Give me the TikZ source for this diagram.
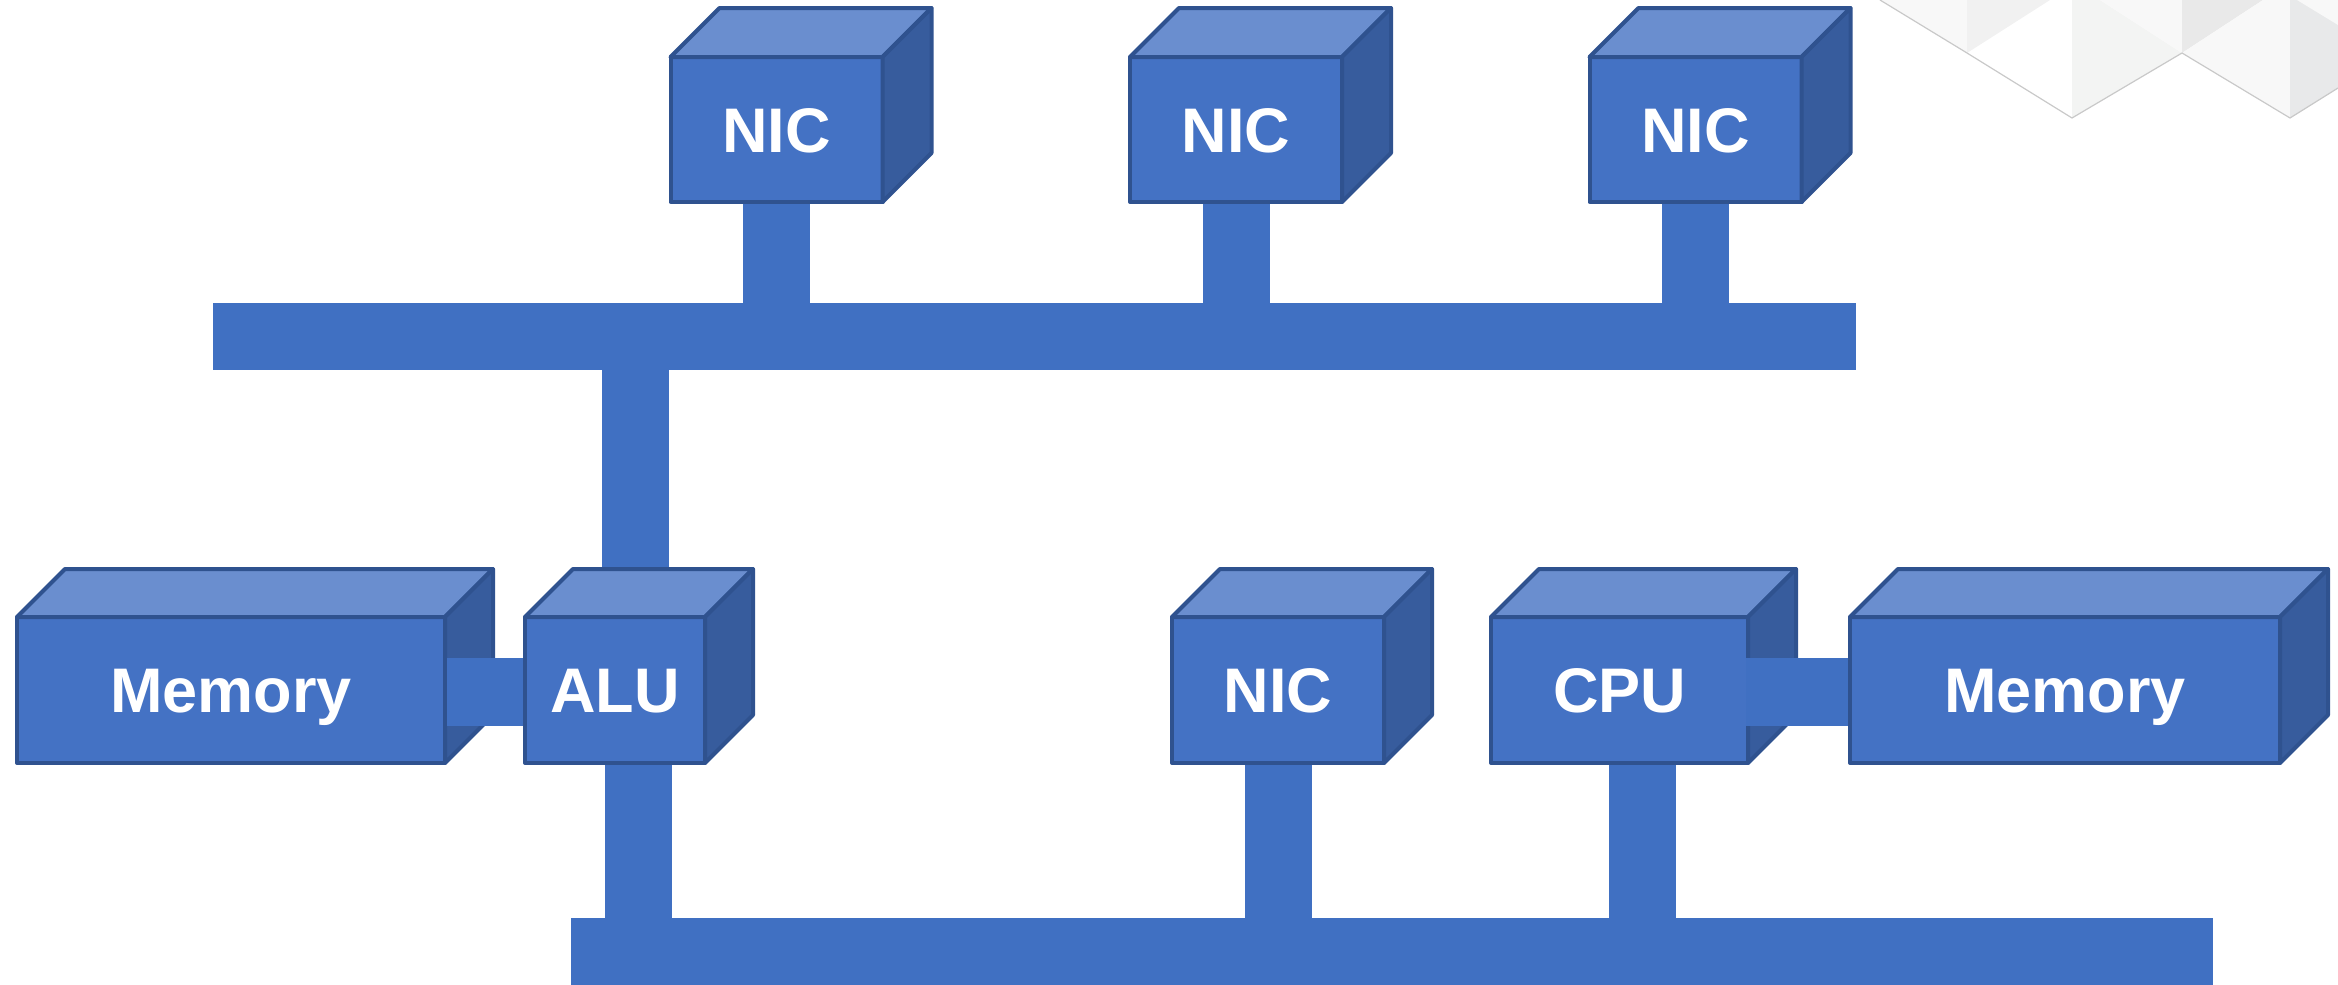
\documentclass[tikz,border=0pt]{standalone}
\usepackage{fontspec}
\setmainfont{Liberation Sans}
\usetikzlibrary{calc}

\pgfdeclarelayer{decor}
\pgfdeclarelayer{background}
\pgfsetlayers{decor,background,main}

\definecolor{facefront}{HTML}{4472C4}
\definecolor{facetop}{HTML}{6A8ECF}
\definecolor{faceside}{HTML}{375C9D}
\definecolor{edgeblue}{HTML}{2F528F}
\definecolor{busblue}{HTML}{4070C2}
\definecolor{tileA}{HTML}{F8F8F8}
\definecolor{tileB}{HTML}{F1F1F1}
\definecolor{tileC}{HTML}{F3F4F3}
\definecolor{tileD}{HTML}{E9E9E9}
\definecolor{tileE}{HTML}{E8E9EA}
\definecolor{seamgray}{HTML}{C9C9C9}

\tikzset{
  front/.style={rectangle, draw=edgeblue, fill=facefront, line width=4pt,
    line join=round, inner sep=0pt, outer sep=0pt, minimum height=146pt,
    text=white, font=\fontsize{63}{63}\selectfont\bfseries,
    text height=45pt, text depth=0pt},
  topface/.style={fill=facetop, draw=edgeblue, line width=4pt, line join=round},
  sideface/.style={fill=faceside, draw=edgeblue, line width=4pt, line join=round},
  bus/.style={rectangle, fill=busblue, inner sep=0pt, outer sep=0pt, minimum height=67pt},
  stem/.style={draw=busblue, line width=67pt, line cap=butt},
  link/.style={draw=busblue, line width=68pt, line cap=butt},
  seam/.style={draw=seamgray, line width=1.2pt, line join=round},
}

% top and right faces of a box whose front face is the given node
\newcommand\solidfaces[2]{%
  \filldraw[topface] (#1.north west) -- ++(#2,-#2)
    -- ([shift={(#2,-#2)}]#1.north east) -- (#1.north east) -- cycle;
  \filldraw[sideface] (#1.north east) -- ++(#2,-#2)
    -- ([shift={(#2,-#2)}]#1.south east) -- (#1.south east) -- cycle;
}

\begin{document}
\begin{tikzpicture}[x=1pt,y=-1pt]
\useasboundingbox (0,0) rectangle (2338,985);

% faint tiled corner ornament
\begin{pgfonlayer}{decor}
  \fill[tileA] (1880,0) -- (1967,53) -- (1967,0) -- cycle;
  \fill[tileB] (1967,0) -- (1967,53) -- (2050,0) -- cycle;
  \fill[tileC] (2072,0) -- (2100,0) -- (2182,53) -- (2072,118) -- cycle;
  \fill[tileA] (2100,0) -- (2182,0) -- (2182,53) -- cycle;
  \fill[tileD] (2182,0) -- (2263,0) -- (2182,53) -- cycle;
  \fill[tileA] (2263,0) -- (2290,0) -- (2290,118) -- (2182,53) -- cycle;
  \fill[tileE] (2290,0) -- (2338,0) -- (2338,88) -- (2290,118) -- cycle;
  \fill[tileA] (2297,0) -- (2338,0) -- (2338,25) -- cycle;
  \draw[seam] (1880,0) -- (1967,53) -- (2072,118) -- (2182,53) -- (2290,118) -- (2338,88);
\end{pgfonlayer}

% buses
\node[bus, minimum width=1643pt] (topbus) at (1034.5,336.5) {};
\node[bus, minimum width=1642pt] (botbus) at (1392,951.5) {};

% upper network cards
\node[front, minimum width=212pt, minimum height=145pt] (nicA) at (776.5,129.5) {NIC};
\solidfaces{nicA}{49}
\node[front, minimum width=212pt, minimum height=145pt] (nicB) at (1236,129.5) {NIC};
\solidfaces{nicB}{49}
\node[front, minimum width=212pt, minimum height=145pt] (nicC) at (1695.5,129.5) {NIC};
\solidfaces{nicC}{49}

% lower row
\node[front, minimum width=428pt] (memL) at (231,690) {Memory};
\solidfaces{memL}{48}
\node[front, minimum width=180pt] (alu) at (615,690) {ALU};
\solidfaces{alu}{48}
\node[front, minimum width=212pt] (nicD) at (1278,690) {NIC};
\solidfaces{nicD}{48}
\node[front, minimum width=257pt] (cpu) at (1619.5,690) {CPU};
\solidfaces{cpu}{48}
\node[front, minimum width=430pt] (memR) at (2065,690) {Memory};
\solidfaces{memR}{48}

% drops from the buses
\begin{pgfonlayer}{background}
  \draw[stem] (nicA.south) -- (nicA.south |- topbus.north);
  \draw[stem] (nicB.south) -- (nicB.south |- topbus.north);
  \draw[stem] (nicC.south) -- (nicC.south |- topbus.north);
  \draw[stem] ([xshift=20pt]alu.north) -- ([xshift=20pt]alu.north |- topbus.south);
  \draw[stem] ([xshift=23pt]alu.south) -- ([xshift=23pt]alu.south |- botbus.north);
  \draw[stem] (nicD.south) -- (nicD.south |- botbus.north);
  \draw[stem] ([xshift=23pt]cpu.south) -- ([xshift=23pt]cpu.south |- botbus.north);
\end{pgfonlayer}

% memory links
\draw[link] ([shift={(2pt,-2pt)}]memL.east) -- ([shift={(-2pt,-2pt)}]alu.west);
\draw[link] ([shift={(-2pt,-2pt)}]cpu.east) -- ([shift={(-2pt,-2pt)}]memR.west);
\end{tikzpicture}
\end{document}
